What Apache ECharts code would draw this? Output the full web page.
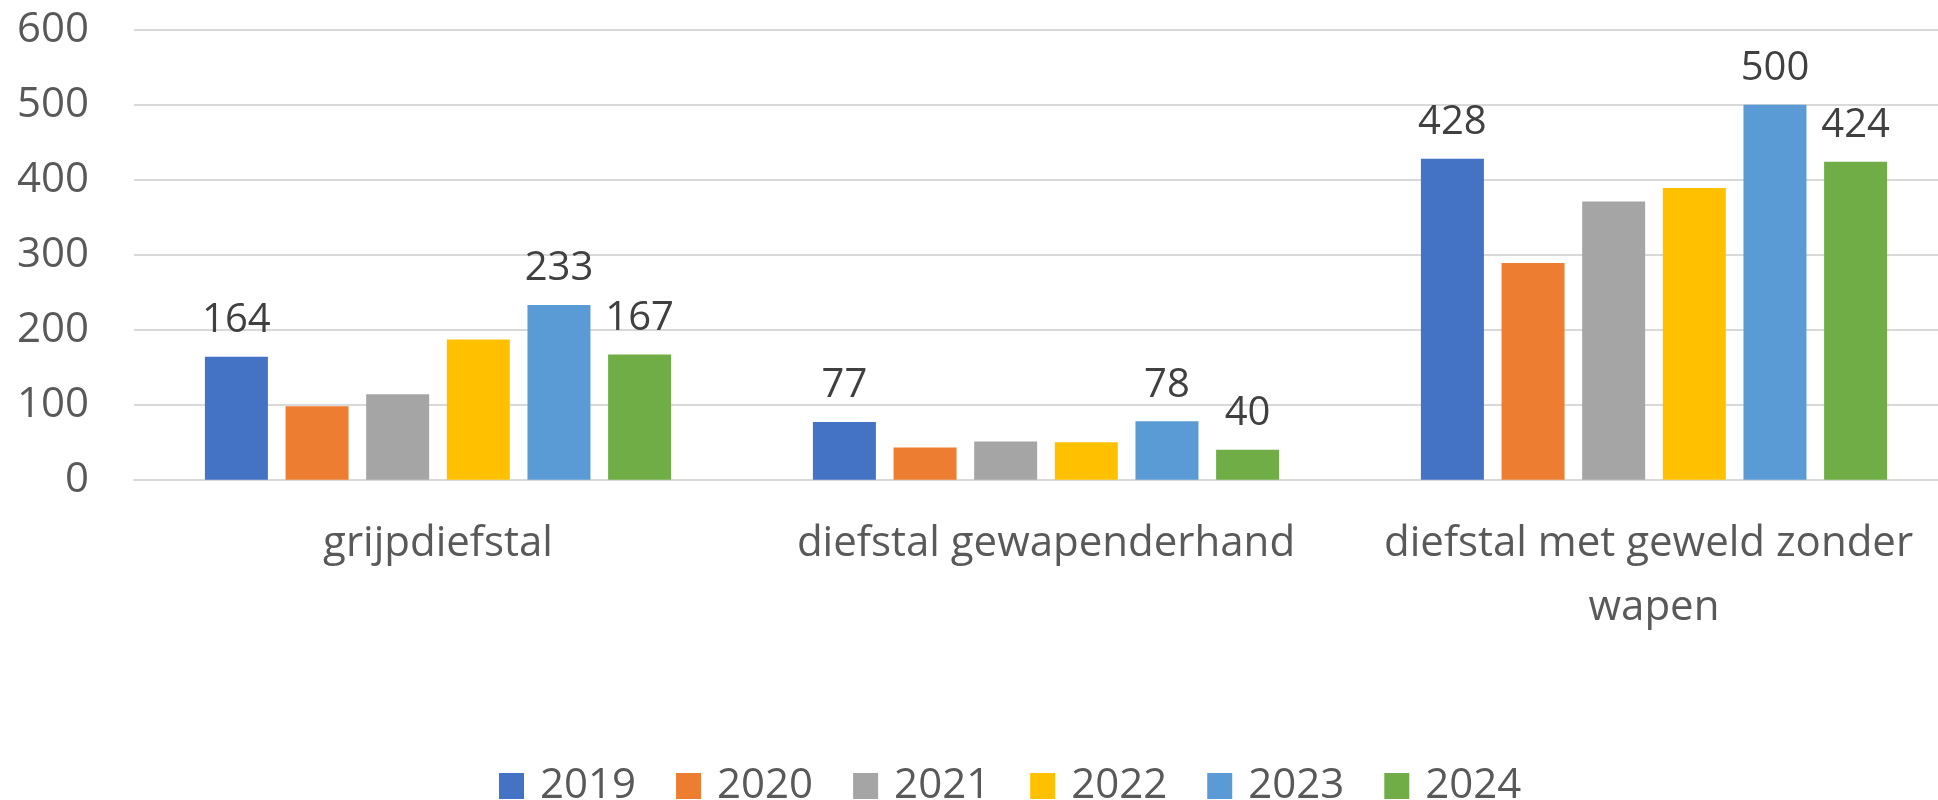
<!DOCTYPE html>
<html>
<head>
<meta charset="utf-8">
<script src="https://cdn.jsdelivr.net/npm/echarts@6/dist/echarts.min.js"></script>
<style>
html,body{margin:0;padding:0;background:#fff;overflow:hidden;width:1938px;height:800px;}
#chart{width:1958px;height:800px;}
</style>
</head>
<body>
<div id="chart"></div>
<script>
const categories = ['grijpdiefstal', 'diefstal gewapenderhand', 'diefstal met geweld zonder wapen'];
const years = ['2019', '2020', '2021', '2022', '2023', '2024'];
const v2019 = [164, 77, 428];
const v2020 = [98, 43, 289];
const v2021 = [114, 51, 371];
const v2022 = [187, 50, 389];
const v2023 = [233, 78, 500];
const v2024 = [167, 40, 424];
const yTicks = [0, 100, 200, 300, 400, 500, 600];

const values = [v2019, v2020, v2021, v2022, v2023, v2024];
const colors = ['#4472C4', '#ED7D31', '#A5A5A5', '#FFC000', '#5B9BD5', '#70AD47'];
const labelled = [true, false, false, false, true, true];
const FONT = 'Open Sans';

const chart = echarts.init(document.getElementById('chart'), null, {renderer: 'canvas'});
chart.setOption({
  animation: false,
  textStyle: {fontFamily: FONT},
  grid: {left: 134, top: 29.7, right: 0, height: 450, containLabel: false},
  legend: {
    left: 494, top: 760,
    itemWidth: 25, itemHeight: 26, itemGap: 40,
    icon: 'rect',
    textStyle: {fontFamily: FONT, fontSize: 42, color: '#595959', padding: [0, 0, 0, 11]},
    data: years
  },
  xAxis: {
    type: 'category',
    data: categories,
    axisLine: {lineStyle: {color: '#d9d9d9', width: 2}},
    axisTick: {show: false},
    axisLabel: {
      interval: 0, margin: 32, fontSize: 42, color: '#595959', fontFamily: FONT,
      width: 570, overflow: 'break', lineHeight: 64
    }
  },
  yAxis: {
    type: 'value', min: yTicks[0], max: yTicks[yTicks.length - 1], interval: 100,
    axisLine: {show: false}, axisTick: {show: false},
    splitLine: {lineStyle: {color: '#d9d9d9', width: 2}},
    axisLabel: {margin: 45, fontSize: 42, color: '#595959', fontFamily: FONT}
  },
  series: years.map((y, i) => ({
    name: y,
    type: 'bar',
    data: values[i],
    barWidth: 63,
    barGap: '28%',
    itemStyle: {color: colors[i]},
    label: {
      show: labelled[i], position: 'top', distance: 16,
      fontSize: 40, color: '#404040', fontFamily: FONT
    }
  }))
});
</script>
</body>
</html>
